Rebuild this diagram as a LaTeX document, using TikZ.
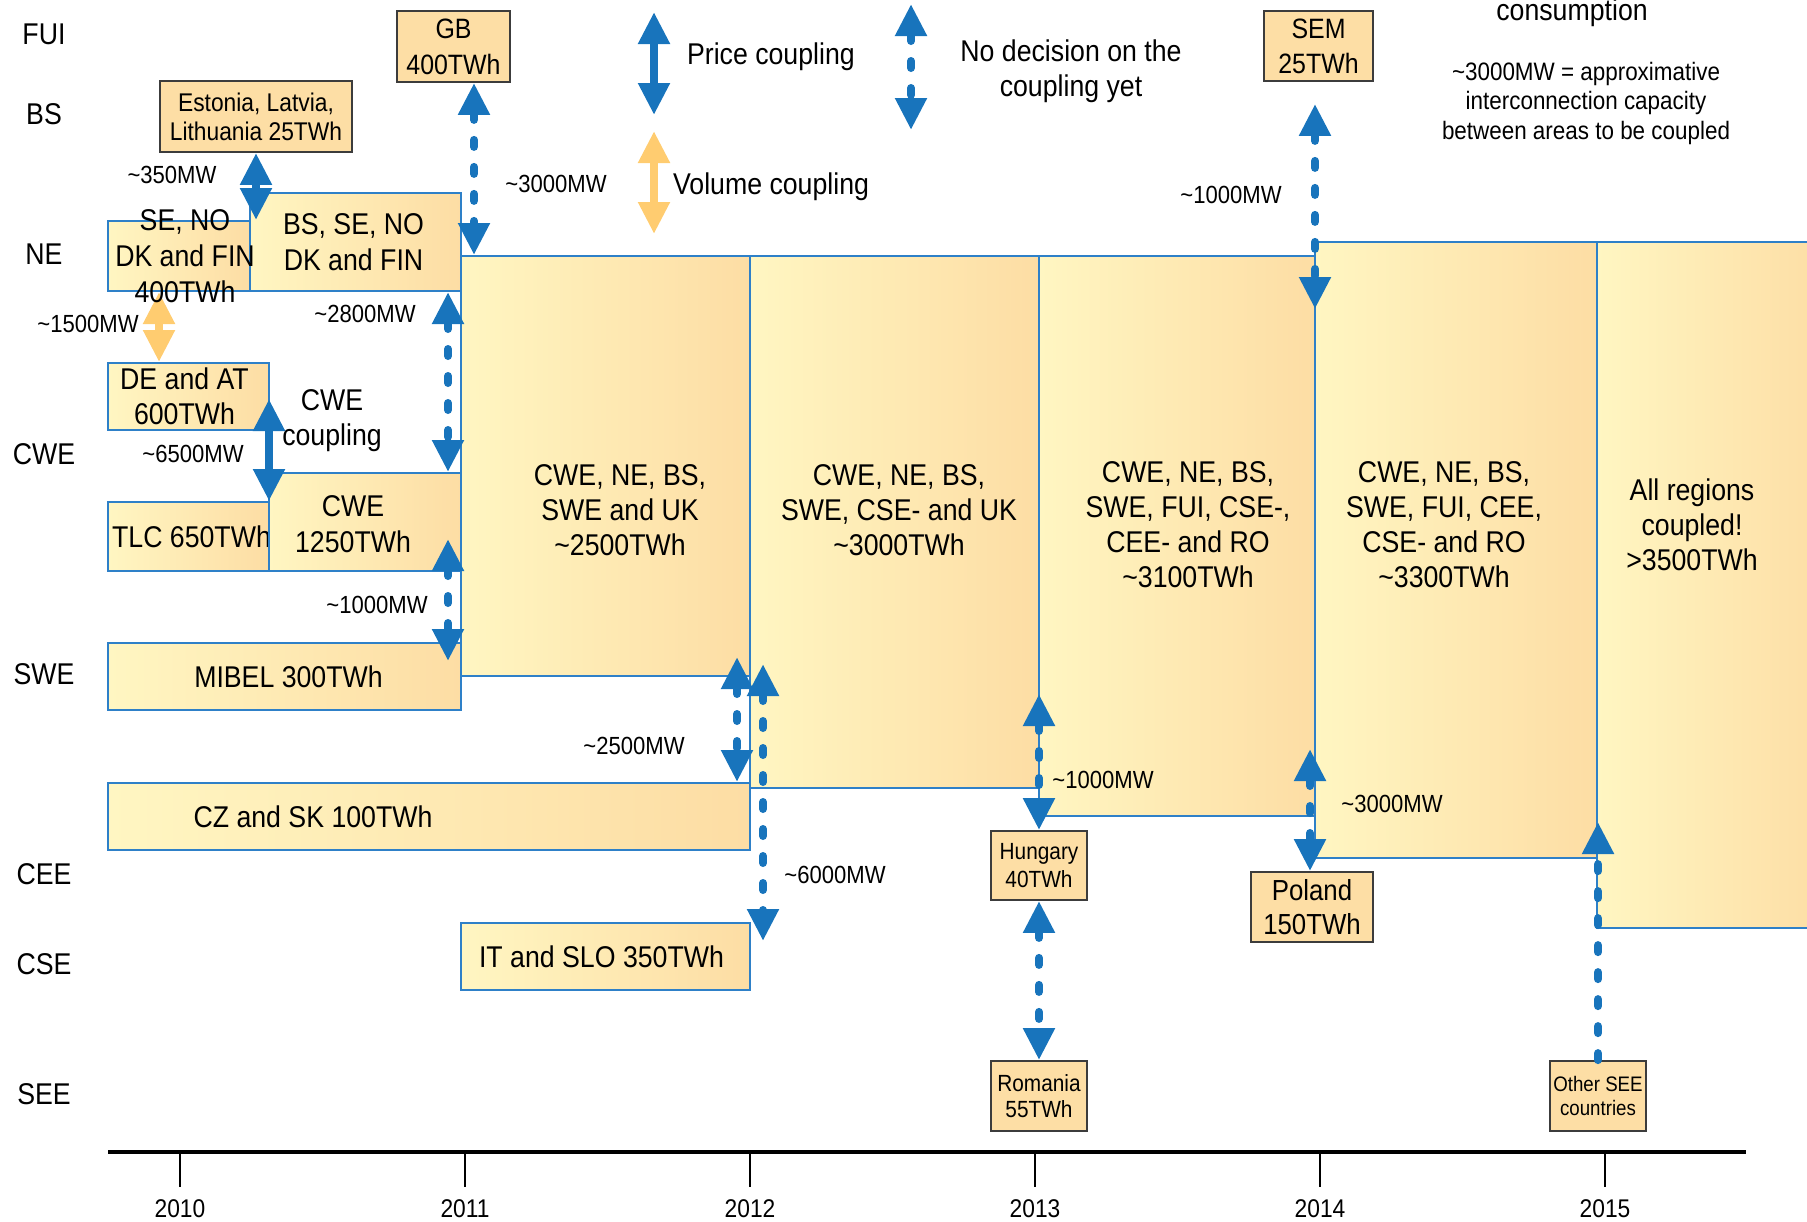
\documentclass[tikz,border=0pt]{standalone}
\usepackage{fontspec}
\setmainfont{Liberation Sans}[FakeStretch=0.89]
\usetikzlibrary{arrows.meta, positioning, fit, backgrounds}
\definecolor{CouplingBlue}{RGB}{24,116,188}
\definecolor{VolumeOrange}{RGB}{255,204,112}
\definecolor{ZoneLight}{RGB}{255,246,194}
\definecolor{ZoneDark}{RGB}{253,221,164}
\definecolor{ZoneLine}{RGB}{46,128,200}
\definecolor{CtyFill}{RGB}{253,222,165}
\definecolor{CtyLine}{RGB}{60,60,60}
\newcommand{\ap}{\textasciitilde}

\begin{document}
\begin{tikzpicture}[x=0.5pt, y=-0.5pt,
	>={Triangle[width=15pt,length=16pt]},
	main/.style={font=\fontsize{15}{17.5}\selectfont, align=center},
	mw/.style={font=\fontsize{12.4}{14}\selectfont},
	rowlab/.style={font=\fontsize{15}{18}\selectfont},
	yearlab/.style={font=\fontsize{12.8}{15}\selectfont},
	zone/.style={draw=ZoneLine, line width=1pt, left color=ZoneLight, right color=ZoneDark, inner sep=0pt},
	cty/.style={draw=CtyLine, line width=0.9pt, fill=CtyFill, inner sep=0pt},
	pc/.style={draw=CouplingBlue, line width=4pt, <->},
	vc/.style={pc, draw=VolumeOrange},
	nd/.style={pc, line cap=round, dash pattern=on 3.5pt off 10pt},
	ndup/.style={draw=CouplingBlue, line width=4pt, line cap=round, dash pattern=on 3.5pt off 10pt, ->}]
	\useasboundingbox (0,0) rectangle (1807,1221);
	\clip (0,0) rectangle (1807,1221);

	% regions and years
	\foreach \r/\y in {FUI/34, BS/114, NE/254, CWE/454, SWE/674, CEE/874, CSE/964, SEE/1094}
		\node[rowlab] (r\r) at (44,\y) {\r};
	\draw[line width=2pt] (108,1152) -- (1746,1152);
	\foreach \yr [count=\k from 0] in {2010,...,2015}{
		\draw[line width=0.6pt] ({180+285*\k},1152) -- ({180+285*\k},1187);
		\node[yearlab] (y\yr) at ({180+285*\k},1209) {\yr};
	}

	% 2010 markets
	\node[zone, fit={(250,193) (461,291)}, label={[main, font=\fontsize{15}{18}\selectfont, xshift=-1pt]center:BS, SE, NO\\DK and FIN}] (bsseno) {};
	\node[zone, fit={(108,221) (250,291)}, label={[main, font=\fontsize{15}{18}\selectfont, xshift=3pt]center:SE, NO\\DK and FIN\\400TWh}] (seno) {};
	\node[cty, fit={(160,81) (352,152)}, label={[main, font=\fontsize{12.8}{14.5}\selectfont]center:Estonia, Latvia,\\Lithuania 25TWh}] (estonia) {};
	\node[cty, fit={(397,11) (510,82)}, label={[main, font=\fontsize{14}{18}\selectfont]center:GB\\400TWh}] (gb) {};
	\node[zone, fit={(108,363) (269,430)}, label={[main, xshift=-2pt]center:DE and AT\\600TWh}] (deat) {};
	\node[zone, fit={(108,502) (269,571)}, label={[main, xshift=1.5pt]center:TLC 650TWh}] (tlc) {};
	\node[zone, fit={(269,473) (461,571)}, label={[main, font=\fontsize{15}{18}\selectfont, xshift=-6pt, yshift=-1pt]center:CWE\\1250TWh}] (cwe) {};
	\node[zone, fit={(108,643) (461,710)}, label={[main, xshift=2pt]center:MIBEL 300TWh}] (mibel) {};
	\node[zone, fit={(108,783) (750,850)}, label={[main, xshift=-58pt]center:CZ and SK 100TWh}] (czsk) {};
	\node[zone, fit={(461,923) (750,990)}, label={[main, xshift=-2pt]center:IT and SLO 350TWh}] (itslo) {};
	\node[main, anchor=center] (cwecpl) at (332,421) {CWE\\coupling};

	% coupled areas
	\node[zone, fit={(461,256) (750,676)}] (big1) {};
	\node[zone, fit={(750,256) (1039,788)}] (big2) {};
	\node[zone, fit={(1039,256) (1315,816)}] (big3) {};
	\node[zone, fit={(1315,242) (1597,858)}] (big4) {};
	\node[zone, fit={(1597,242) (1830,928)}] (big5) {};
	\node[main] (big1t) at (620,510) {CWE, NE, BS,\\SWE and UK\\\ap2500TWh};
	\node[main] (big2t) at (899,510) {CWE, NE, BS,\\SWE, CSE- and UK\\\ap3000TWh};
	\node[main] (big3t) at (1188,525) {CWE, NE, BS,\\SWE, FUI, CSE-,\\CEE- and RO\\\ap3100TWh};
	\node[main] (big4t) at (1444,525) {CWE, NE, BS,\\SWE, FUI, CEE,\\CSE- and RO\\\ap3300TWh};
	\node[main] (big5t) at (1692,525) {All regions\\coupled!\\>3500TWh};

	% later markets
	\node[cty, fit={(991,831) (1087,900)}, label={[main, font=\fontsize{11.7}{14}\selectfont]center:Hungary\\40TWh}] (hungary) {};
	\node[cty, fit={(991,1061) (1087,1131)}, label={[main, font=\fontsize{11.7}{13}\selectfont]center:Romania\\55TWh}] (romania) {};
	\node[cty, fit={(1251,872) (1373,942)}, label={[main, font=\fontsize{14.5}{17}\selectfont]center:Poland\\150TWh}] (poland) {};
	\node[cty, fit={(1550,1061) (1646,1131)}, label={[main, font=\fontsize{10.5}{12}\selectfont]center:Other SEE\\countries}] (othersee) {};
	\node[cty, fit={(1264,11) (1373,81)}, label={[main, font=\fontsize{14}{17.5}\selectfont]center:SEM\\25TWh}] (sem) {};

	% interconnectors
	\coordinate (lEst) at (256,0);
	\coordinate (lGB) at (474,0);
	\coordinate (lNord) at (159,0);
	\coordinate (lNE) at (448,0);
	\coordinate (lCWE) at (269,0);
	\coordinate (lCZ) at (737,0);
	\coordinate (lIT) at (763,0);
	\coordinate (lHU) at (1039,0);
	\coordinate (lPL) at (1310,0);
	\coordinate (lSEM) at (1315,0);
	\draw[pc] (estonia.south -| lEst) -- (seno.north -| lEst);
	\draw[nd] (gb.south -| lGB) -- (big1.north -| lGB);
	\begin{pgfonlayer}{background}
		\draw[vc] (seno.south -| lNord) -- (deat.north -| lNord);
	\end{pgfonlayer}
	\draw[nd] (bsseno.south -| lNE) -- (cwe.north -| lNE);
	\draw[pc, shorten <=-16pt] (deat.south -| lCWE) -- (tlc.north -| lCWE);
	\draw[nd, shorten <=-16.5pt, shorten >=-9.5pt] (cwe.south -| lNE) -- (mibel.north -| lNE);
	\draw[nd, shorten <=-10pt] (big1.south -| lCZ) -- (czsk.north -| lCZ);
	\draw[nd, shorten <=-6.5pt, shorten >=-9.5pt] (big1.south -| lIT) -- (itslo.north -| lIT);
	\draw[nd, shorten <=-47.5pt] (big2.south -| lHU) -- (hungary.north);
	\draw[nd] (hungary) -- (romania);
	\draw[nd, shorten <=-34pt] (big3.south -| lPL) -- (poland.north -| lPL);
	\draw[ndup, shorten >=-18.5pt] (othersee.north) -- (othersee.north |- big4.south);
	\draw[nd, shorten <=11pt, shorten >=-34pt] (sem.south -| lSEM) -- (big4.north -| lSEM);

	\foreach \i/\x/\y/\val in {1/172/175/350, 2/556/184/3000, 3/88/324/1500, 4/365/314/2800,
		5/193/454/6500, 6/377/605/1000, 7/634/746/2500, 8/835/875/6000,
		9/1103/780/1000, 10/1392/804/3000, 11/1231/195/1000}
		\node[mw] (mw\i) at (\x,\y) {\ap\val MW};

	% legend
	\coordinate (legP1) at (654,12);
	\coordinate (legP2) at (654,115);
	\coordinate (legV1) at (654,131);
	\coordinate (legV2) at (654,234);
	\coordinate (legN1) at (911,4);
	\coordinate (legN2) at (911,130);
	\draw[pc] (legP1) -- (legP2);
	\draw[vc] (legV1) -- (legV2);
	\draw[nd] (legN1) -- (legN2);
	\node[main, anchor=west] (legPt) at (680,57) {Price coupling};
	\node[main, anchor=west] (legVt) at (666,187) {Volume coupling};
	\node[main] (legNt) at (1071,71) {No decision on the\\coupling yet};
	\node[main, anchor=base] (consnote) at (1572,20) {consumption};
	\node[main, font=\fontsize{12.6}{14.75}\selectfont] (capnote) at (1586,103) {\ap3000MW = approximative\\interconnection capacity\\between areas to be coupled};
\end{tikzpicture}
\end{document}
